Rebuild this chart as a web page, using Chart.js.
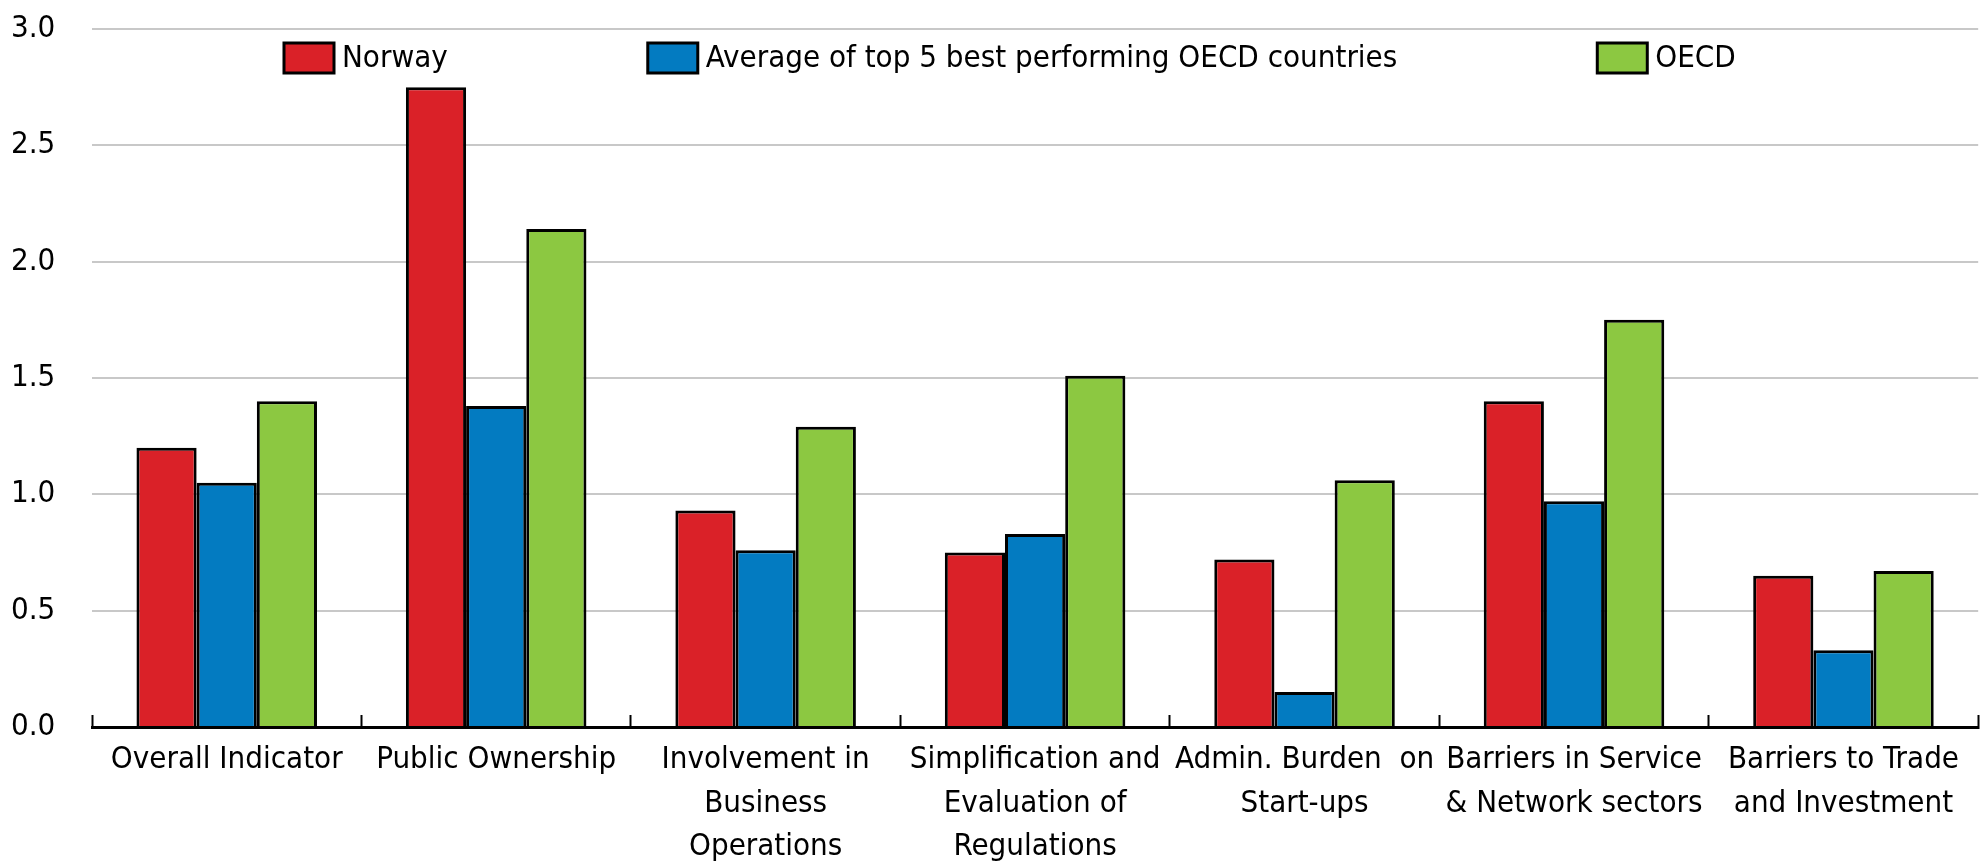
<!DOCTYPE html>
<html>
<head>
<meta charset="utf-8">
<script src="https://cdn.jsdelivr.net/npm/chart.js@4.4.1/dist/chart.umd.min.js"></script>
<style>
html,body{margin:0;padding:0;background:#fff;}
#wrap{width:1982px;height:862px;position:relative;}
</style>
</head>
<body>
<div id="wrap"><canvas id="c" width="1982" height="862"></canvas></div>
<script>
const categories = [
  ["Overall Indicator"],
  ["Public Ownership"],
  ["Involvement in", "Business", "Operations"],
  ["Simplification and", "Evaluation of", "Regulations"],
  ["Admin. Burden  on", "Start-ups"],
  ["Barriers in Service", "& Network sectors"],
  ["Barriers to Trade", "and Investment"]
];
const seriesNames = ["Norway", "Average of top 5 best performing OECD countries", "OECD"];
const norway = [1.20, 2.75, 0.93, 0.75, 0.72, 1.40, 0.65];
const top5 = [1.05, 1.38, 0.76, 0.83, 0.15, 0.97, 0.33];
const oecd = [1.40, 2.14, 1.29, 1.51, 1.06, 1.75, 0.67];
const yTicks = [0, 0.5, 1.0, 1.5, 2.0, 2.5, 3.0];

const FONT = "'DejaVu Sans Condensed', 'Liberation Sans Narrow', sans-serif";
const colors = ["#DA2128", "#037BC1", "#8CC841"];

const legendPlugin = {
  id: 'customLegend',
  afterDraw(chart) {
    const ctx = chart.ctx;
    const area = chart.chartArea;
    ctx.save();
    ctx.font = "31px " + FONT;
    ctx.textBaseline = 'middle';
    const boxW = 50, boxH = 30, gapText = 8, gapItem = 200;
    const y = area.top + 29;
    let x = area.left + 192;
    chart.data.datasets.forEach((ds) => {
      ctx.fillStyle = ds.backgroundColor;
      ctx.fillRect(x, y - boxH / 2, boxW, boxH);
      ctx.lineWidth = 3;
      ctx.strokeStyle = '#000';
      ctx.strokeRect(x, y - boxH / 2, boxW, boxH);
      ctx.fillStyle = '#000';
      const tx = x + boxW + gapText;
      ctx.fillText(ds.label, tx, y + 1);
      x = tx + ctx.measureText(ds.label).width + gapItem;
    });
    ctx.restore();
  }
};

new Chart(document.getElementById('c'), {
  type: 'bar',
  data: {
    labels: categories,
    datasets: [
      {label: seriesNames[0], data: norway, backgroundColor: colors[0]},
      {label: seriesNames[1], data: top5, backgroundColor: colors[1]},
      {label: seriesNames[2], data: oecd, backgroundColor: colors[2]}
    ].map(d => Object.assign(d, {borderColor: '#000', borderWidth: 3, categoryPercentage: 0.67, barPercentage: 1.0}))
  },
  options: {
    responsive: false,
    animation: false,
    devicePixelRatio: 1,
    layout: {padding: {top: 29, right: 0, left: 11, bottom: 0}},
    plugins: {
      legend: {display: false},
      tooltip: {enabled: false},
      title: {display: false}
    },
    scales: {
      x: {
        offset: true,
        grid: {
          offset: true,
          drawOnChartArea: false,
          drawTicks: true,
          tickLength: -12,
          tickColor: '#000',
          tickWidth: 2
        },
        border: {display: true, color: '#000', width: 3},
        ticks: {
          color: '#000',
          padding: 23,
          maxRotation: 0,
          autoSkip: false,
          font: {family: FONT, size: 31, lineHeight: 1.41}
        },
        afterFit(scale) { scale.height = 135; }
      },
      y: {
        min: 0,
        max: 3,
        afterBuildTicks(scale) { scale.ticks = yTicks.map(v => ({value: v})); },
        grid: {
          color: (c) => c.tick && c.tick.value === 0 ? 'rgba(0,0,0,0)' : '#c8c8c8',
          lineWidth: 2,
          drawTicks: false
        },
        border: {display: false},
        ticks: {
          color: '#000',
          padding: 0,
          crossAlign: 'far',
          font: {family: FONT, size: 31},
          callback: (v) => Number(v).toFixed(1)
        },
        afterFit(scale) { scale.width = 81; }
      }
    }
  },
  plugins: [legendPlugin]
});
</script>
</body>
</html>
